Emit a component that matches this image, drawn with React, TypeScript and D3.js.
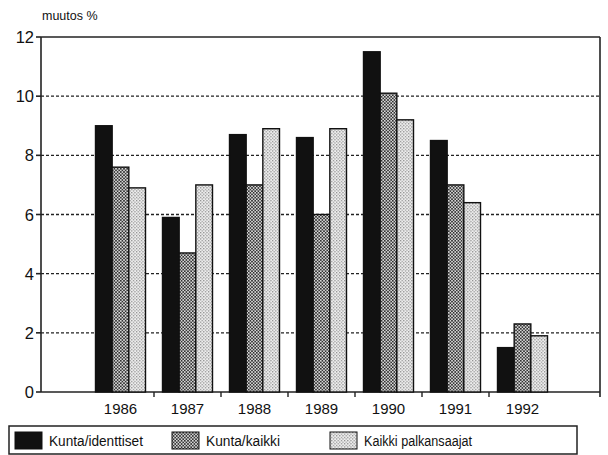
import React from "react";
import * as d3 from "d3";

const years = ["1986", "1987", "1988", "1989", "1990", "1991", "1992"];
const seriesNames = ["Kunta/identtiset", "Kunta/kaikki", "Kaikki palkansaajat"];
const kuntaIdenttiset = [9.0, 5.9, 8.7, 8.6, 11.5, 8.5, 1.5];
const kuntaKaikki = [7.6, 4.7, 7.0, 6.0, 10.1, 7.0, 2.3];
const kaikkiPalkansaajat = [6.9, 7.0, 8.9, 8.9, 9.2, 6.4, 1.9];
const yTicks = [0, 2, 4, 6, 8, 10, 12];
const yLabel = "muutos %";

const W = 608;
const H = 455;
const left = 41;
const right = 600;
const top = 37;
const bottom = 392;
const font = "'Liberation Sans', Arial, Helvetica, sans-serif";

export default function App() {
  const series = [kuntaIdenttiset, kuntaKaikki, kaikkiPalkansaajat];
  const fills = ["#111", "url(#patMid)", "url(#patLight)"];
  const y = d3.scaleLinear().domain([0, 12]).range([bottom, top]);
  const x = d3.scaleBand<string>().domain(years).range([87, 556]).paddingInner(0).paddingOuter(0);
  const groupW = 50;
  const barW = groupW / 3;
  const bandTicks = years.slice(1).map((yr) => x(yr) as number);
  const legendX = [15, 172, 330];
  const legendLen = [94, 74, 108];

  return (
    <svg
      width={W}
      height={H}
      style={{ position: "absolute", left: 0, top: 0, background: "#fff" }}
      fontFamily={font}
    >
      <defs>
        <pattern id="patMid" width="3.2" height="3.2" patternUnits="userSpaceOnUse">
          <rect width="3.2" height="3.2" fill="#d8d8d8" />
          <rect x="0" y="0" width="1.6" height="1.6" fill="#333" />
          <rect x="1.6" y="1.6" width="1.6" height="1.6" fill="#333" />
        </pattern>
        <pattern id="patLight" width="3.2" height="3.2" patternUnits="userSpaceOnUse">
          <rect width="3.2" height="3.2" fill="#eeeeee" />
          <rect x="0" y="0" width="1.2" height="1.2" fill="#888" />
          <rect x="1.6" y="1.6" width="1.2" height="1.2" fill="#888" />
        </pattern>
      </defs>

      <text x={42} y={20} fontSize={12.5} fill="#111">
        {yLabel}
      </text>

      {yTicks
        .filter((t) => t > 0 && t < 12)
        .map((t) => (
          <line
            key={"g" + t}
            x1={left}
            x2={right}
            y1={y(t)}
            y2={y(t)}
            stroke="#222"
            strokeWidth={1.3}
            strokeDasharray="3,2"
          />
        ))}

      <line x1={left} x2={right} y1={top} y2={top} stroke="#222" strokeWidth={1.6} />
      <line x1={right} x2={right} y1={top} y2={bottom + 5} stroke="#222" strokeWidth={1.6} />
      <line x1={left} x2={left} y1={top} y2={bottom} stroke="#222" strokeWidth={1.6} />
      <line x1={left} x2={right} y1={bottom} y2={bottom} stroke="#222" strokeWidth={1.6} />

      {yTicks.map((t) => (
        <g key={"yt" + t}>
          <line x1={left - 5} x2={left} y1={y(t)} y2={y(t)} stroke="#222" strokeWidth={1.6} />
          <text x={left - 7} y={y(t) + 6} fontSize={16.5} textAnchor="end" fill="#111">
            {t}
          </text>
        </g>
      ))}

      {years.map((yr, i) => {
        const cx = (x(yr) as number) + x.bandwidth() / 2;
        const gx = cx - groupW / 2;
        return (
          <g key={yr}>
            {series.map((s, k) => (
              <rect
                key={k}
                x={gx + k * barW}
                y={y(s[i])}
                width={barW}
                height={bottom - y(s[i])}
                fill={fills[k]}
                stroke="#111"
                strokeWidth={1.4}
              />
            ))}
            <text x={cx} y={bottom + 22} fontSize={15} textAnchor="middle" fill="#111">
              {yr}
            </text>
          </g>
        );
      })}

      {bandTicks.map((tx, i) => (
        <line key={"xt" + i} x1={tx} x2={tx} y1={bottom} y2={bottom + 5} stroke="#222" strokeWidth={1.4} />
      ))}

      <rect x={9} y={426} width={568} height={28} fill="#fff" stroke="#222" strokeWidth={1.5} />
      {seriesNames.map((name, k) => {
        const sx = legendX[k];
        return (
          <g key={name}>
            <rect x={sx} y={432} width={27} height={17} fill={fills[k]} stroke="#111" strokeWidth={1} />
            <text
              x={sx + 34}
              y={446}
              fontSize={15.5}
              fill="#111"
              textLength={legendLen[k]}
              lengthAdjust="spacingAndGlyphs"
            >
              {name}
            </text>
          </g>
        );
      })}
    </svg>
  );
}
